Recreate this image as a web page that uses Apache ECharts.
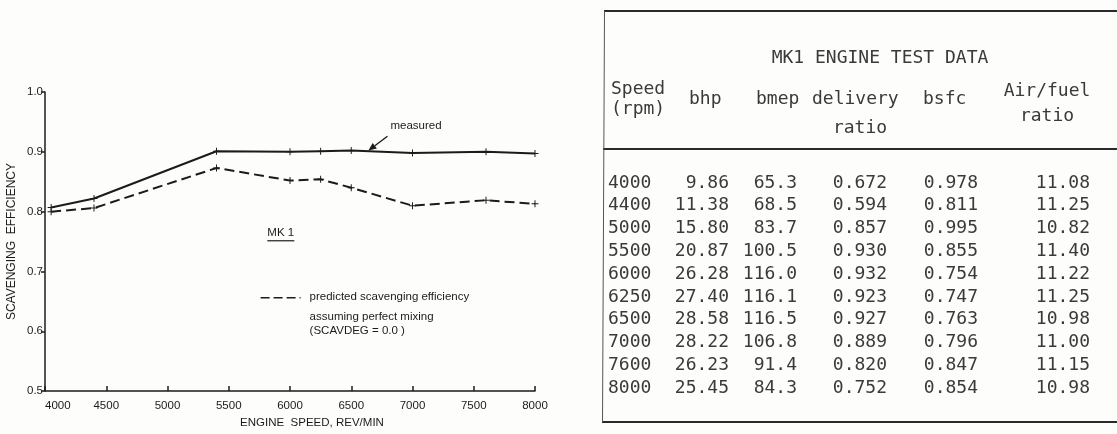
<!DOCTYPE html>
<html>
<head>
<meta charset="utf-8">
<script src="https://cdn.jsdelivr.net/npm/echarts@6/dist/echarts.min.js"></script>
<style>
  html, body { margin: 0; padding: 0; background: #fdfdfc; }
  #main { width: 1117px; height: 434px; }
</style>
</head>
<body>
<div id="main"></div>
<script>
// ---- Scavenging efficiency against engine speed (MK 1) ----
const speeds    = [4050, 4400, 5400, 6000, 6250, 6500, 7000, 7600, 8000];
const measured  = [0.807, 0.822, 0.901, 0.900, 0.901, 0.902, 0.898, 0.900, 0.897];
const predicted = [0.800, 0.806, 0.873, 0.852, 0.854, 0.840, 0.810, 0.819, 0.813];

// ---- MK1 engine test data table ----
const tableTitle  = 'MK1 ENGINE TEST DATA';
const colSpeed    = ['4000', '4400', '5000', '5500', '6000', '6250', '6500', '7000', '7600', '8000'];
const colBhp      = ['9.86', '11.38', '15.80', '20.87', '26.28', '27.40', '28.58', '28.22', '26.23', '25.45'];
const colBmep     = ['65.3', '68.5', '83.7', '100.5', '116.0', '116.1', '116.5', '106.8', '91.4', '84.3'];
const colDelivery = ['0.672', '0.594', '0.857', '0.930', '0.932', '0.923', '0.927', '0.889', '0.820', '0.752'];
const colBsfc     = ['0.978', '0.811', '0.995', '0.855', '0.754', '0.747', '0.763', '0.796', '0.847', '0.854'];
const colAirFuel  = ['11.08', '11.25', '10.82', '11.40', '11.22', '11.25', '10.98', '11.00', '11.15', '10.98'];

const INK = '#1b1b1b';
const TYPE = '#3a3a3a';
const SANS = '"Liberation Sans", Arial, sans-serif';
const MONO = '"DejaVu Sans Mono", monospace';
const PLUS = 'path://M4.3,0H5.7V4.3H10V5.7H5.7V10H4.3V5.7H0V4.3H4.3Z';

const chart = echarts.init(document.getElementById('main'), null, { renderer: 'canvas' });

const pair = (xs, ys) => xs.map((x, i) => [x, ys[i]]);

chart.setOption({
  backgroundColor: '#fdfdfc',
  animation: false,
  grid: { left: 45, top: 92, width: 490, height: 306, containLabel: false },
  xAxis: {
    type: 'value', min: 4000, max: 8000, interval: 500,
    name: 'ENGINE  SPEED, REV/MIN', nameLocation: 'middle', nameGap: 18,
    nameTextStyle: { color: INK, fontFamily: SANS, fontSize: 11.5, padding: [0, 0, 0, 44] },
    axisLine: { show: true, lineStyle: { color: INK, width: 1.5 } },
    axisTick: { show: true, inside: true, length: 5, lineStyle: { color: INK, width: 1.5 } },
    axisLabel: { color: INK, fontFamily: SANS, fontSize: 11.5, margin: 9, alignMinLabel: 'left',
                 formatter: v => String(v) },
    splitLine: { show: false }
  },
  yAxis: {
    type: 'value', min: 0.5, max: 1.0, interval: 0.1,
    name: 'SCAVENGING  EFFICIENCY', nameLocation: 'middle', nameGap: 27, nameRotate: 90,
    nameTextStyle: { color: INK, fontFamily: SANS, fontSize: 12 },
    axisLine: { show: true, lineStyle: { color: INK, width: 1.5 } },
    axisTick: { show: true, inside: false, length: 4, lineStyle: { color: INK, width: 1.5 } },
    axisLabel: { color: INK, fontFamily: SANS, fontSize: 11.5, margin: 2,
                 formatter: v => v.toFixed(1) },
    splitLine: { show: false }
  },
  series: [
    {
      name: 'measured', type: 'line', data: pair(speeds, measured),
      symbol: PLUS, symbolSize: 7, showSymbol: true,
      lineStyle: { color: INK, width: 2 }, itemStyle: { color: INK }
    },
    {
      name: 'predicted', type: 'line', data: pair(speeds, predicted),
      symbol: PLUS, symbolSize: 7, showSymbol: true,
      lineStyle: { color: INK, width: 2, type: [10, 5] }, itemStyle: { color: INK }
    }
  ]
});

// Annotations anchored to the axes
const px = (x, y) => chart.convertToPixel({ gridIndex: 0 }, [x, y]);
const tip = px(6640, 0.902);
const lbl = px(6820, 0.941);
const mk  = px(5815, 0.763);
const leg = px(5760, 0.656);

const start = [lbl[0] - 3, lbl[1] + 9];
const ang = Math.atan2(tip[1] - start[1], tip[0] - start[0]);
const ah = 8, aw = 3.5;
const base = [tip[0] - ah * Math.cos(ang), tip[1] - ah * Math.sin(ang)];

const annotations = [
  { type: 'text', left: lbl[0], top: lbl[1] - 7,
    style: { text: 'measured', fill: INK, font: '11.5px ' + SANS } },
  { type: 'line', shape: { x1: start[0], y1: start[1], x2: base[0], y2: base[1] },
    style: { stroke: INK, lineWidth: 1.4 } },
  { type: 'polygon', shape: { points: [
      tip,
      [base[0] + aw * Math.sin(ang), base[1] - aw * Math.cos(ang)],
      [base[0] - aw * Math.sin(ang), base[1] + aw * Math.cos(ang)]
    ] }, style: { fill: INK } },
  { type: 'text', left: mk[0], top: mk[1] - 7,
    style: { text: 'MK 1', fill: INK, font: '11.5px ' + SANS } },
  { type: 'line', shape: { x1: mk[0], y1: mk[1] + 7, x2: mk[0] + 27, y2: mk[1] + 7 },
    style: { stroke: INK, lineWidth: 1.2 } },
  { type: 'line', shape: { x1: leg[0], y1: leg[1], x2: leg[0] + 40, y2: leg[1] },
    style: { stroke: INK, lineWidth: 1.6, lineDash: [9, 4] } },
  { type: 'text', left: leg[0] + 49, top: leg[1] - 7,
    style: { text: 'predicted scavenging efficiency', fill: INK, font: '11.5px ' + SANS } },
  { type: 'text', left: leg[0] + 49, top: leg[1] + 13,
    style: { text: 'assuming perfect mixing', fill: INK, font: '11.5px ' + SANS } },
  { type: 'text', left: leg[0] + 49, top: leg[1] + 27,
    style: { text: '(SCAVDEG = 0.0 )', fill: INK, font: '11.5px ' + SANS } }
];

// Table drawn as text on the same canvas
const tFont = '18px ' + MONO;
const rowY0 = 183, rowStep = 22.8;
const tableEls = [
  { type: 'line', shape: { x1: 604, y1: 11, x2: 1117, y2: 11 }, style: { stroke: '#2a2a2a', lineWidth: 2 } },
  { type: 'line', shape: { x1: 603, y1: 149, x2: 1117, y2: 149 }, style: { stroke: '#2a2a2a', lineWidth: 2 } },
  { type: 'line', shape: { x1: 602, y1: 422, x2: 1117, y2: 422 }, style: { stroke: '#2a2a2a', lineWidth: 2 } },
  { type: 'line', shape: { x1: 604.5, y1: 11, x2: 602.5, y2: 422 }, style: { stroke: '#555', lineWidth: 1 } },
  { type: 'text', x: 880, y: 58, style: { text: tableTitle, fill: TYPE, font: tFont, align: 'center', verticalAlign: 'middle' } }
];
const head = [
  ['Speed', 611, 89, 'left'], ['(rpm)', 611, 109, 'left'],
  ['bhp', 689, 99, 'left'], ['bmep', 756, 99, 'left'],
  ['delivery', 812, 99, 'left'], ['ratio', 860, 128, 'center'],
  ['bsfc', 923, 99, 'left'],
  ['Air/fuel', 1047, 91, 'center'], ['ratio', 1047, 116, 'center']
];
head.forEach(h => tableEls.push({ type: 'text', x: h[1], y: h[2],
  style: { text: h[0], fill: TYPE, font: tFont, align: h[3], verticalAlign: 'middle' } }));

const cols = [
  [colSpeed, 608, 'left'], [colBhp, 729, 'right'], [colBmep, 797, 'right'],
  [colDelivery, 887, 'right'], [colBsfc, 978, 'right'], [colAirFuel, 1090, 'right']
];
cols.forEach(c => c[0].forEach((v, i) => tableEls.push({ type: 'text', x: c[1], y: rowY0 + i * rowStep,
  style: { text: v, fill: TYPE, font: tFont, align: c[2], verticalAlign: 'middle' } })));

chart.setOption({ graphic: { elements: annotations.concat(tableEls) } });
</script>
</body>
</html>
